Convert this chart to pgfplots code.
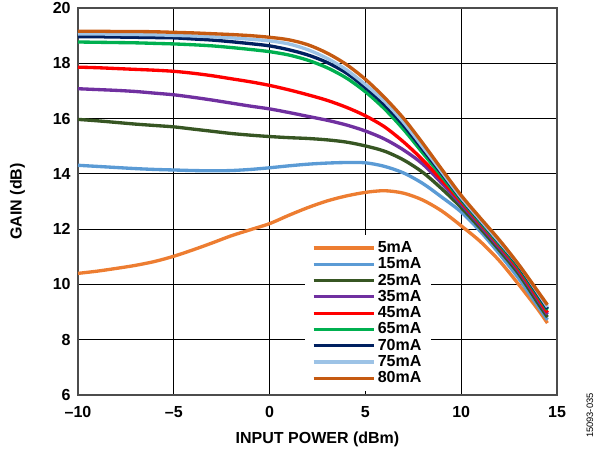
\documentclass[border=0pt]{standalone}
\usepackage{pgfplots}
\pgfplotsset{compat=1.18}
\usepackage{fontspec}
\setmainfont{Liberation Sans}
\definecolor{c5}{HTML}{ED7D31}
\definecolor{c15}{HTML}{5B9BD5}
\definecolor{c25}{HTML}{375623}
\definecolor{c35}{HTML}{7030A0}
\definecolor{c45}{HTML}{FF0000}
\definecolor{c65}{HTML}{00B050}
\definecolor{c70}{HTML}{002060}
\definecolor{c75}{HTML}{9DC3E6}
\definecolor{c80}{HTML}{C55A11}
\begin{document}
\begin{tikzpicture}
\begin{axis}[
  scale only axis,
  width=359.25pt, height=290.25pt,
  xmin=-10, xmax=15, ymin=6, ymax=20,
  xtick={-10,-5,0,5,10,15},
  xticklabels={--10,--5,0,5,10,15},
  ytick={6,8,10,12,14,16,18,20},
  yticklabels={6,8,10,12,14,16,18,20},
  grid=major,
  major grid style={black, line width=0.9pt},
  axis line style={black!70, line width=1.5pt},
  major tick length=0pt,
  tick label style={font=\fontsize{12}{14}\selectfont\bfseries},
  xticklabel style={yshift=-5pt},
  yticklabel style={xshift=-2pt},
  label style={font=\fontsize{12}{14}\selectfont\bfseries},
  xlabel={INPUT POWER (dBm)},
  ylabel={GAIN (dB)},
  xlabel style={yshift=-4pt},
  ylabel style={yshift=14pt},
  legend cell align=left,
  legend style={at={(0.474,0.413)}, anchor=north west, draw=none, fill=white,
    font=\fontsize{12}{12.5}\selectfont\bfseries, row sep=-1.6pt, inner xsep=5pt, inner ysep=2.5pt},
  legend image code/.code={\draw[#1, line width=2.4pt] (0pt,0pt) -- (45pt,0pt);},
  every axis plot/.append style={line width=2.5pt, smooth, tension=0.5},
]
\addplot[c5] coordinates {(-10,10.40) (-9,10.48) (-8,10.58) (-7,10.69) (-6,10.83) (-5,11.02) (-4,11.25) (-3,11.50) (-2,11.76) (-1,11.98) (0,12.20) (1,12.50) (2,12.78) (3,13.02) (4,13.20) (5,13.33) (6,13.39) (7,13.30) (8,13.05) (9,12.65) (10,12.12) (11,11.55) (12,10.85) (13,10.00) (14,9.10) (14.5,8.60)};
\addlegendentry{5mA}
\addplot[c15] coordinates {(-10,14.31) (-9,14.27) (-8,14.23) (-7,14.19) (-6,14.16) (-5,14.14) (-4,14.12) (-3,14.11) (-2,14.12) (-1,14.16) (0,14.22) (1,14.29) (2,14.35) (3,14.39) (4,14.41) (5,14.40) (6,14.27) (7,14.03) (8,13.65) (9,13.15) (10,12.62) (11,11.92) (12,11.10) (13,10.22) (14,9.22) (14.5,8.72)};
\addlegendentry{15mA}
\addplot[c25] coordinates {(-10,15.97) (-9,15.92) (-8,15.86) (-7,15.80) (-6,15.75) (-5,15.70) (-4,15.62) (-3,15.54) (-2,15.46) (-1,15.40) (0,15.35) (1,15.31) (2,15.28) (3,15.23) (4,15.15) (5,15.01) (6,14.82) (7,14.50) (8,14.05) (9,13.45) (10,12.78) (11,12.03) (12,11.23) (13,10.38) (14,9.33) (14.5,8.82)};
\addlegendentry{25mA}
\addplot[c35] coordinates {(-10,17.08) (-9,17.05) (-8,17.02) (-7,16.98) (-6,16.92) (-5,16.86) (-4,16.77) (-3,16.67) (-2,16.56) (-1,16.45) (0,16.35) (1,16.22) (2,16.08) (3,15.94) (4,15.77) (5,15.55) (6,15.26) (7,14.86) (8,14.35) (9,13.65) (10,12.90) (11,12.13) (12,11.33) (13,10.48) (14,9.45) (14.5,8.92)};
\addlegendentry{35mA}
\addplot[c45] coordinates {(-10,17.86) (-9,17.84) (-8,17.81) (-7,17.78) (-6,17.75) (-5,17.71) (-4,17.64) (-3,17.55) (-2,17.44) (-1,17.33) (0,17.20) (1,17.04) (2,16.86) (3,16.66) (4,16.41) (5,16.10) (6,15.70) (7,15.15) (8,14.50) (9,13.76) (10,12.98) (11,12.20) (12,11.40) (13,10.55) (14,9.52) (14.5,8.98)};
\addlegendentry{45mA}
\addplot[c65] coordinates {(-10,18.77) (-9,18.76) (-8,18.75) (-7,18.74) (-6,18.72) (-5,18.70) (-4,18.67) (-3,18.63) (-2,18.57) (-1,18.50) (0,18.42) (1,18.30) (2,18.11) (3,17.84) (4,17.47) (5,16.97) (6,16.35) (7,15.60) (8,14.75) (9,13.90) (10,13.05) (11,12.25) (12,11.45) (13,10.62) (14,9.60) (14.5,9.08)};
\addlegendentry{65mA}
\addplot[c70] coordinates {(-10,18.96) (-9,18.96) (-8,18.95) (-7,18.94) (-6,18.93) (-5,18.92) (-4,18.88) (-3,18.84) (-2,18.78) (-1,18.71) (0,18.63) (1,18.49) (2,18.30) (3,18.03) (4,17.65) (5,17.12) (6,16.50) (7,15.75) (8,14.88) (9,14.00) (10,13.10) (11,12.30) (12,11.50) (13,10.67) (14,9.65) (14.5,9.12)};
\addlegendentry{70mA}
\addplot[c75] coordinates {(-10,19.06) (-9,19.06) (-8,19.05) (-7,19.04) (-6,19.03) (-5,19.01) (-4,18.99) (-3,18.96) (-2,18.92) (-1,18.87) (0,18.81) (1,18.70) (2,18.49) (3,18.18) (4,17.77) (5,17.23) (6,16.62) (7,15.86) (8,14.97) (9,14.06) (10,13.14) (11,12.33) (12,11.53) (13,10.71) (14,9.70) (14.5,9.18)};
\addlegendentry{75mA}
\addplot[c80] coordinates {(-10,19.16) (-9,19.16) (-8,19.15) (-7,19.15) (-6,19.14) (-5,19.12) (-4,19.10) (-3,19.07) (-2,19.04) (-1,19.00) (0,18.94) (1,18.85) (2,18.67) (3,18.37) (4,17.96) (5,17.42) (6,16.76) (7,16.00) (8,15.10) (9,14.15) (10,13.22) (11,12.40) (12,11.60) (13,10.72) (14,9.75) (14.5,9.26)};
\addlegendentry{80mA}
\end{axis}
\node[rotate=90, font=\fontsize{7}{8}\selectfont] at ([xshift=24.75pt, yshift=-15.5pt]current axis.south east) {15093-035};
\pgfresetboundingbox
\path ([xshift=-58.5pt, yshift=-41.25pt]current axis.south west) rectangle ([xshift=390.75pt, yshift=296.25pt]current axis.south west);
\end{tikzpicture}
\end{document}
